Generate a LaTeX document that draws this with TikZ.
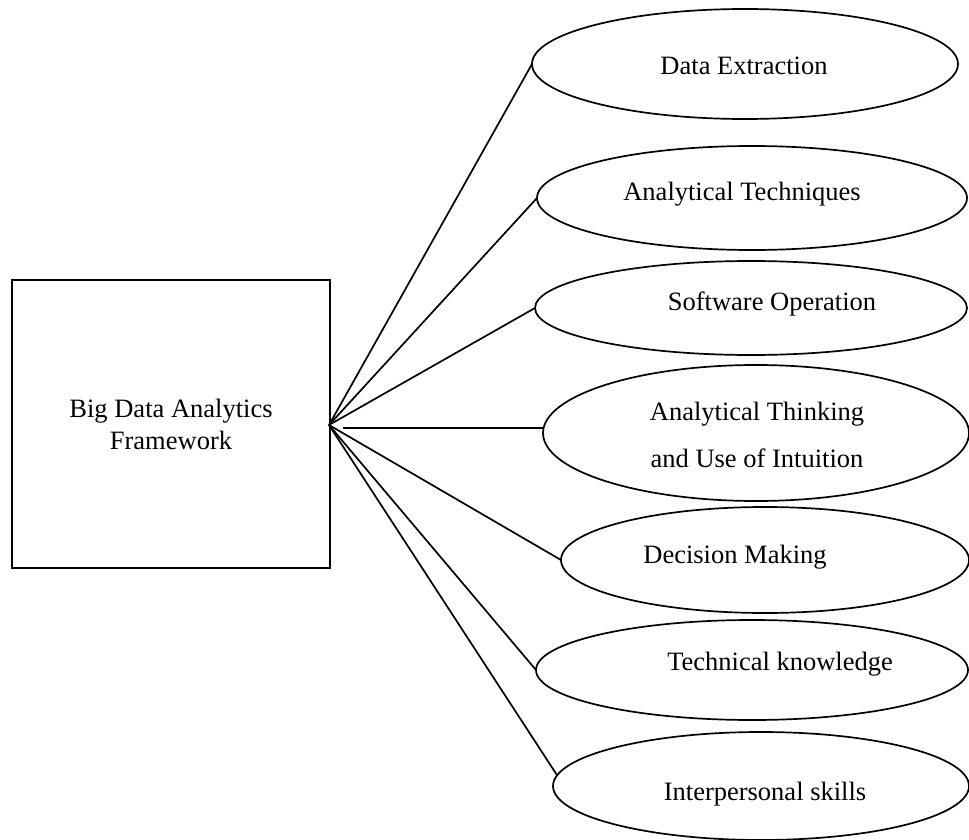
\documentclass[tikz,border=0pt]{standalone}
\usepackage{fontspec}
\setmainfont{Liberation Serif}
\usetikzlibrary{shapes.geometric}
\begin{document}
\begin{tikzpicture}[x=1pt,y=-1pt,
  lw/.style={line width=1.7pt},
  oval/.style={ellipse,draw,lw,inner sep=0pt,outer sep=0pt},
  lbl/.style={anchor=base,inner sep=0pt,font=\fontsize{26.5}{32}\selectfont},
  conn/.style={lw}]
\useasboundingbox (0,0) rectangle (969,840);
\node[draw,line width=1.9pt,minimum width=318pt,minimum height=288pt,inner sep=0pt,align=center,
  font=\fontsize{26.5}{32}\selectfont] (box) at (171,424) {Big Data Analytics\\Framework};
\node[oval,minimum width=426pt,minimum height=110pt] (e1) at (745,64) {};
\node[oval,minimum width=430pt,minimum height=104pt] (e2) at (752,198) {};
\node[oval,minimum width=432pt,minimum height=94pt] (e3) at (751,308) {};
\node[oval,minimum width=426pt,minimum height=136pt] (e4) at (756,433) {};
\node[oval,minimum width=408pt,minimum height=106pt] (e5) at (765,560) {};
\node[oval,minimum width=432pt,minimum height=100pt] (e6) at (752,670) {};
\node[oval,minimum width=416pt,minimum height=108pt] (e7) at (761,786) {};
\node[lbl] (t1) at (744,75) {Data Extraction};
\node[lbl] (t2) at (742,200) {Analytical Techniques};
\node[lbl] (t3) at (772,310) {Software Operation};
\node[lbl] (t4a) at (757,420) {Analytical Thinking};
\node[lbl] (t4b) at (757,467) {and Use of Intuition};
\node[lbl] (t5) at (735,563) {Decision Making};
\node[lbl] (t6) at (780,670) {Technical knowledge};
\node[lbl] (t7) at (765,800) {Interpersonal skills};
\coordinate (hub) at (329,425);
\coordinate (h0) at (343,428);
\draw[conn] (hub) -- (e1.west);
\draw[conn] (hub) -- (e2.west);
\draw[conn] (hub) -- (e3.west);
\draw[conn] (h0) -- (e4.west |- h0);
\draw[conn] (hub) -- (e5.west);
\draw[conn] (hub) -- (e6.west);
\draw[conn] (hub) -- (e7.177.5);
\end{tikzpicture}
\end{document}
